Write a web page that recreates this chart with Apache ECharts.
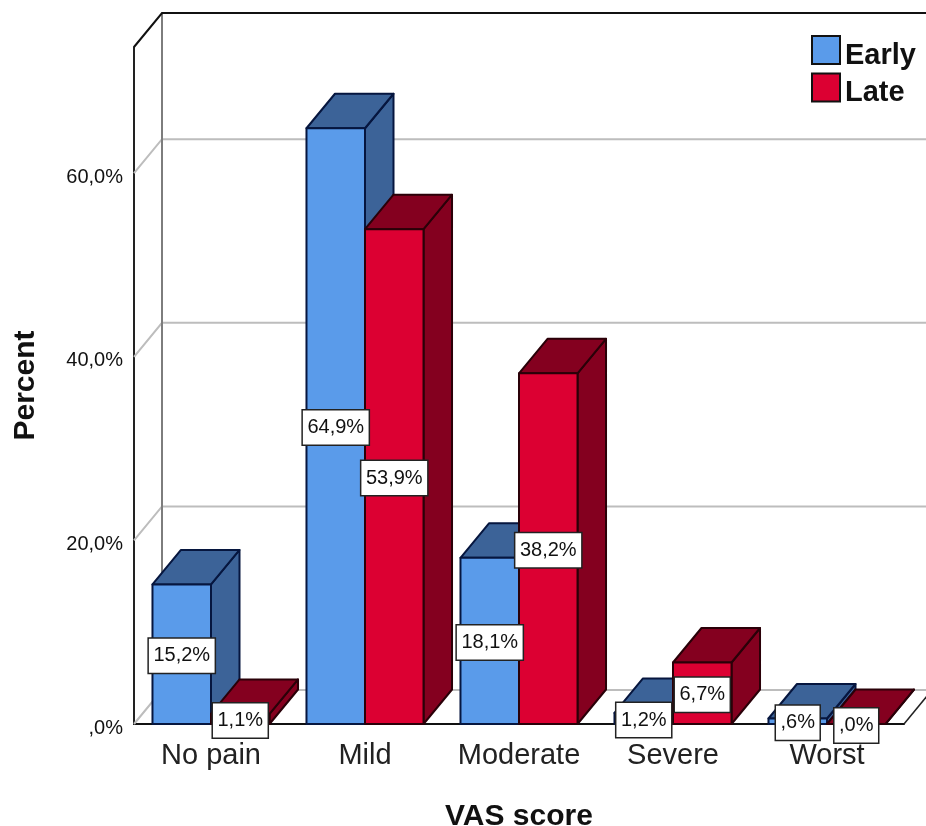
<!DOCTYPE html>
<html>
<head>
<meta charset="utf-8">
<style>html,body{margin:0;padding:0;background:#fff}#c{width:926px;height:826px}</style>
<script src="https://cdn.jsdelivr.net/npm/echarts@6/dist/echarts.min.js"></script>
</head>
<body>
<div id="c"></div>
<script>
const categories = ['No pain', 'Mild', 'Moderate', 'Severe', 'Worst'];
const early = [15.2, 64.9, 18.1, 1.2, 0.6];
const late = [1.1, 53.9, 38.2, 6.7, 0.0];
const earlyLabels = ['15,2%', '64,9%', '18,1%', '1,2%', ',6%'];
const lateLabels = ['1,1%', '53,9%', '38,2%', '6,7%', ',0%'];
const yTicks = [0, 20, 40, 60];
const yTickLabels = [',0%', '20,0%', '40,0%', '60,0%'];
const axisTop = 73.75;

const FONT = '"Liberation Sans", Arial, sans-serif';
const DX = 28.5, DY = -34.5, WALL_DX = 28, WALL_DY = -34, BAR_RATIO = 0.38;

function wallItem(params, api) {
  const cs = params.coordSys;
  const y = api.coord([0, api.value(0)])[1];
  const left = cs.x, right = cs.x + cs.width;
  return {
    type: 'group',
    children: [{
      type: 'polyline',
      shape: { points: [[left, y], [left + WALL_DX, y + WALL_DY], [right + WALL_DX, y + WALL_DY]] },
      style: { fill: 'none', stroke: '#bdbdbd', lineWidth: 2 }
    }]
  };
}

function frameItem(params, api) {
  const cs = params.coordSys;
  const left = cs.x, right = cs.x + cs.width, top = cs.y, bottom = cs.y + cs.height;
  const line = (pts, stroke, w) => ({
    type: 'polyline', shape: { points: pts },
    style: { fill: 'none', stroke: stroke, lineWidth: w }
  });
  return {
    type: 'group',
    children: [
      line([[left + WALL_DX, top + WALL_DY], [left + WALL_DX, bottom + WALL_DY]], '#7d7d7d', 2),
      line([[left, top], [left + WALL_DX, top + WALL_DY], [right + WALL_DX, top + WALL_DY]], '#111', 2),
      line([[right, bottom], [right + WALL_DX, bottom + WALL_DY]], '#222', 1.5)
    ]
  };
}

function barRenderer(side, front, shade, edge, labels) {
  return function (params, api) {
    const i = api.value(0), v = api.value(1);
    const c = api.coord([i, v]);
    const base = api.coord([i, 0]);
    const w = api.size([1, 0])[0] * BAR_RATIO;
    const x0 = side < 0 ? c[0] - w : c[0], x1 = x0 + w;
    const t = c[1], b = base[1];
    const st = f => ({ fill: f, stroke: edge, lineWidth: 2, lineJoin: 'round' });
    return {
      type: 'group',
      children: [
        { type: 'polygon', shape: { points: [[x1, t], [x1 + DX, t + DY], [x1 + DX, b + DY], [x1, b]] }, style: st(shade) },
        { type: 'polygon', shape: { points: [[x0, t], [x0 + DX, t + DY], [x1 + DX, t + DY], [x1, t]] }, style: st(shade) },
        { type: 'polygon', shape: { points: [[x0, t], [x1, t], [x1, b], [x0, b]] }, style: st(front) },
        {
          type: 'text', z2: 100,
          style: {
            text: labels[i], x: (x0 + x1) / 2, y: (t + b) / 2 + 1.5,
            align: 'center', verticalAlign: 'middle',
            font: '20px ' + FONT, fill: '#111',
            backgroundColor: '#fff', borderColor: '#222', borderWidth: 1.5,
            padding: [7, 4.5, 7, 4.5]
          }
        }
      ]
    };
  };
}

const chart = echarts.init(document.getElementById('c'), null, { renderer: 'canvas' });
chart.setOption({
  animation: false,
  backgroundColor: '#fff',
  textStyle: { fontFamily: FONT },
  grid: { left: 134, top: 47, width: 770, height: 677, containLabel: false, outerBoundsMode: 'none' },
  legend: {
    left: 811, top: 35, padding: 0, orient: 'vertical', itemWidth: 28, itemHeight: 28, itemGap: 2.5,
    data: [{ name: 'Early', icon: 'rect' }, { name: 'Late', icon: 'rect' }],
    itemStyle: { borderColor: '#111', borderWidth: 2 },
    formatter: n => '{t|' + n + '}',
    textStyle: {
      fontFamily: FONT, fontSize: 29, fontWeight: 'bold', color: '#111',
      rich: { t: { fontFamily: FONT, fontSize: 29, fontWeight: 'bold', color: '#111', padding: [11, 0, 0, 0] } }
    },
    selectedMode: false
  },
  xAxis: {
    type: 'category', data: categories,
    axisLine: { show: true, lineStyle: { color: '#111', width: 2 } },
    axisTick: { show: false },
    axisLabel: { fontSize: 29, color: '#222', margin: 17, fontFamily: FONT, interval: 0 },
    name: 'VAS score', nameLocation: 'middle', nameGap: 78,
    nameTextStyle: { fontSize: 30, fontWeight: 'bold', color: '#111', fontFamily: FONT }
  },
  yAxis: {
    type: 'value', min: 0, max: axisTop, interval: 20,
    axisLine: { show: true, lineStyle: { color: '#222', width: 2 } },
    axisTick: { show: false },
    splitLine: { show: false },
    axisLabel: {
      margin: 11, showMaxLabel: false,
      rich: { t: { fontSize: 20, color: '#111', fontFamily: FONT, padding: [8, 0, 0, 0] } },
      formatter: v => { const k = yTicks.indexOf(v); return k < 0 ? '' : '{t|' + yTickLabels[k] + '}'; }
    },
    name: 'Percent', nameLocation: 'middle', nameGap: 93, nameRotate: 90,
    nameTextStyle: { fontSize: 30, fontWeight: 'bold', color: '#111', fontFamily: FONT }
  },
  series: [
    { type: 'custom', name: 'wall', silent: true, clip: false, renderItem: wallItem, data: yTicks.map(v => [v]), encode: { y: 0 } },
    { type: 'custom', name: 'frame', silent: true, clip: false, renderItem: frameItem, data: [[0]] },
    {
      type: 'custom', name: 'Early', clip: false, itemStyle: { color: '#5a9bea' },
      renderItem: barRenderer(-1, '#5a9bea', '#3c6398', '#06163f', earlyLabels),
      data: early.map((v, i) => [i, v]), encode: { x: 0, y: 1 }
    },
    {
      type: 'custom', name: 'Late', clip: false, itemStyle: { color: '#dc0032' },
      renderItem: barRenderer(1, '#dc0032', '#84001f', '#2a0008', lateLabels),
      data: late.map((v, i) => [i, v]), encode: { x: 0, y: 1 }
    }
  ]
});
</script>
</body>
</html>
